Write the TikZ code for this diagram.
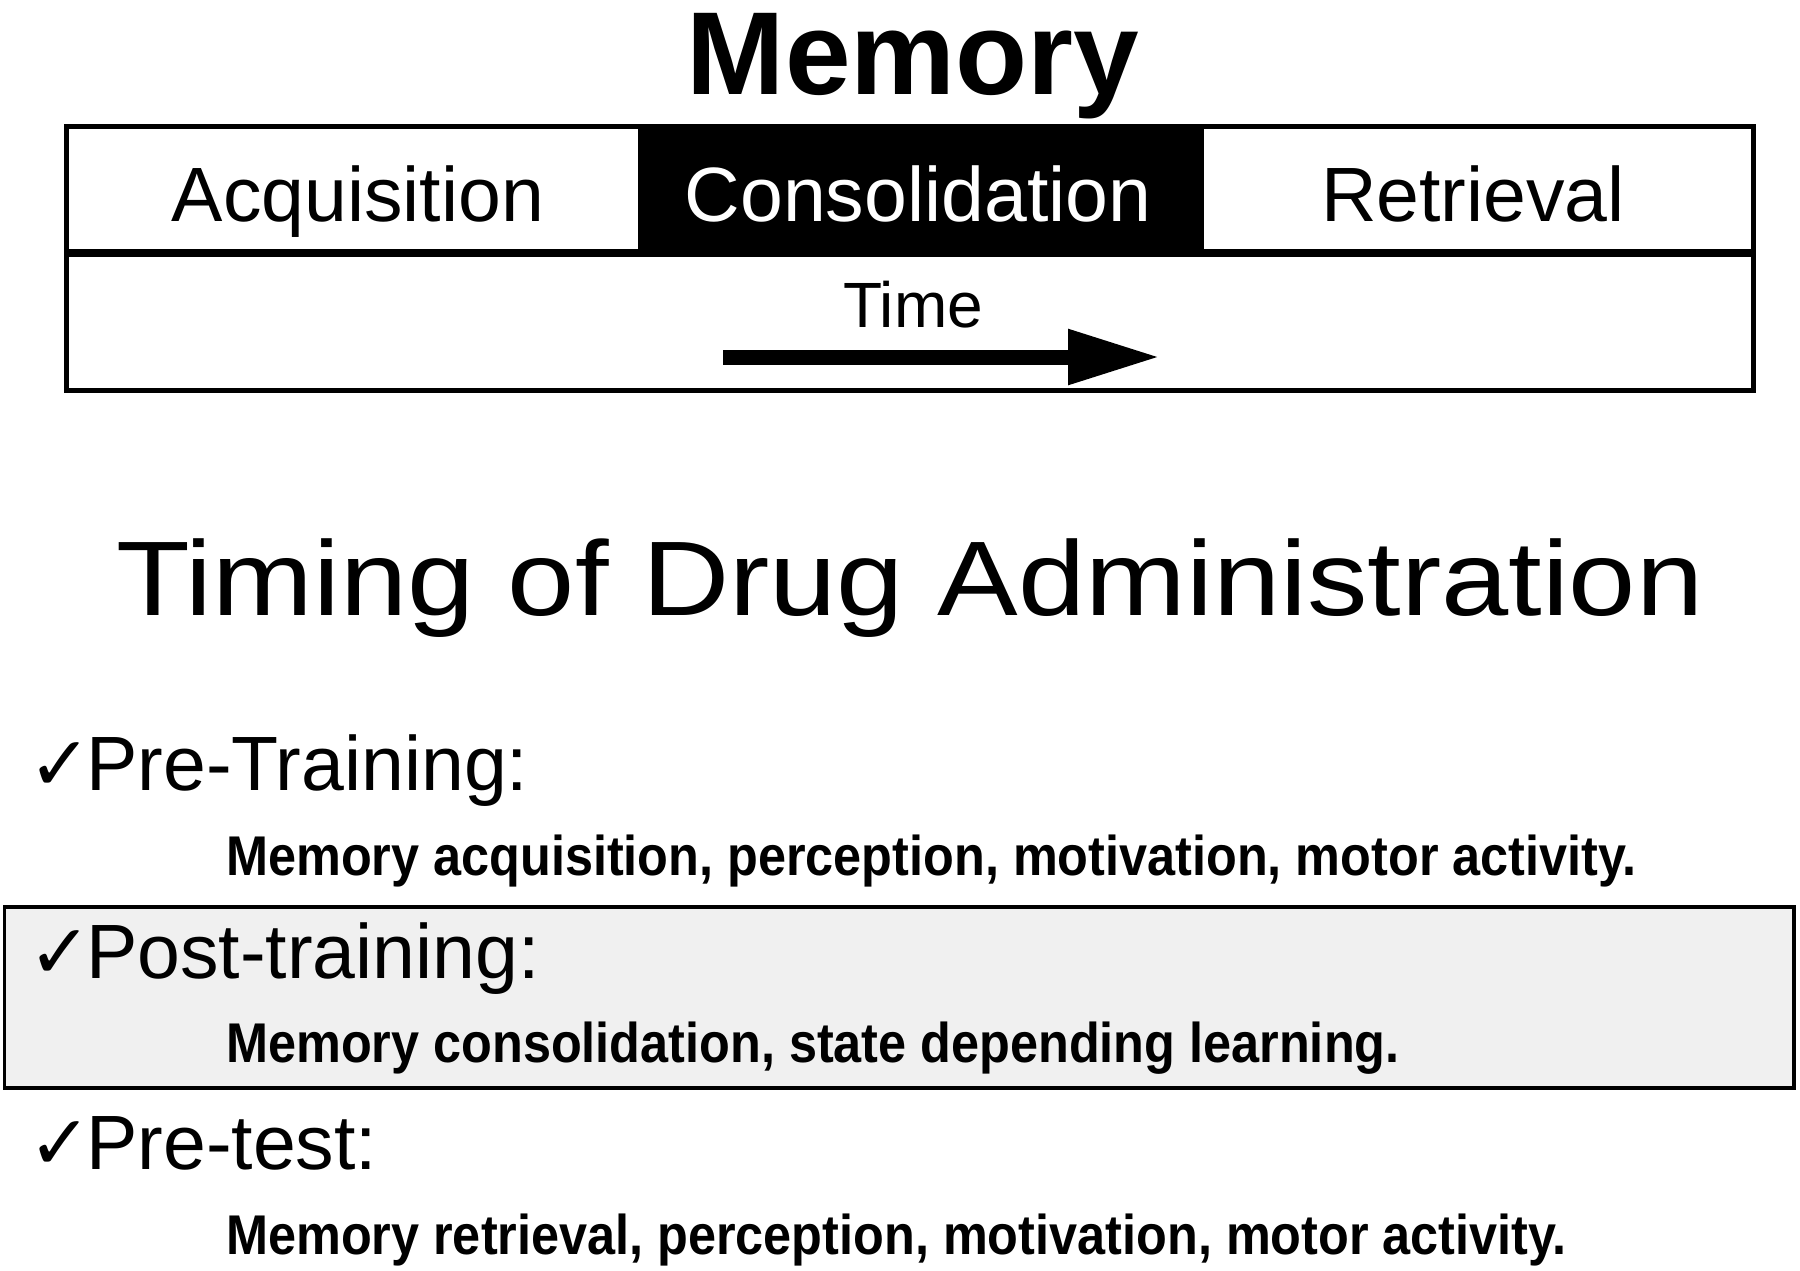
\documentclass[tikz,border=0pt]{standalone}
\usepackage{fontspec}
\setmainfont{Liberation Sans}
\newfontfamily\headfont[FakeStretch=1.14]{Liberation Sans}
\newfontfamily\itemfont[FakeStretch=0.9]{Liberation Sans}
\newfontfamily\tickfont{DejaVu Sans}
\usetikzlibrary{arrows.meta}

\begin{document}
\begin{tikzpicture}[x=1pt,y=-1pt,
  txt/.style={inner sep=0pt,anchor=base},
  phase/.style={txt,font=\fontsize{77}{77}\selectfont},
  stage/.style={inner sep=0pt,anchor=base west,font=\fontsize{77}{77}\selectfont},
  effect/.style={inner sep=0pt,anchor=base west,font=\itemfont\bfseries\fontsize{56}{56}\selectfont},
  tick/.style={inner sep=0pt,anchor=base west,font=\tickfont\fontsize{76}{76}\selectfont}]
  \useasboundingbox (0,0) rectangle (1800,1270);

  % memory phases
  \node[txt,font=\bfseries\fontsize{118}{118}\selectfont] (memory) at (913,94) {Memory};
  \fill (640,126) rectangle (1201,253);
  \draw[line width=5] (66.6,126) rectangle (1753,390);
  \draw[line width=8] (66.6,253) -- (1753,253);
  \draw[line width=5] (640,126) -- (640,253);
  \draw[line width=5] (1201,126) -- (1201,253);
  \node[phase] (acq) at (358,221) {Acquisition};
  \node[phase,text=white] (cons) at (918,221) {Consolidation};
  \node[phase] (retr) at (1473,221) {Retrieval};

  \node[txt,font=\fontsize{64}{64}\selectfont] (time) at (913,327) {Time};
  \coordinate (tstart) at (723,357);
  \coordinate (tend) at (1160,357);
  \draw[line width=15,-{Triangle[length=92pt,width=52pt]}] (tstart) -- (tend);

  % drug timing
  \node[txt,font=\headfont\fontsize{106}{106}\selectfont] (timing) at (910,615)
    {Timing of Drug Administration};

  \draw[line width=3.5,fill=black!6] (4.6,907) rectangle (1794,1088);

  \node[tick] (t1) at (28,790) {✓};
  \node[stage] (pre) at (86,790) {Pre-Training:};
  \node[effect] (e1) at (226,875) {Memory acquisition, perception, motivation, motor activity.};

  \node[tick] (t2) at (28,978) {✓};
  \node[stage] (post) at (86,978) {Post-training:};
  \node[effect] (e2) at (226,1062) {Memory consolidation, state depending learning.};

  \node[tick] (t3) at (28,1169) {✓};
  \node[stage] (test) at (86,1169) {Pre-test:};
  \node[effect] (e3) at (226,1254) {Memory retrieval, perception, motivation, motor activity.};
\end{tikzpicture}
\end{document}
